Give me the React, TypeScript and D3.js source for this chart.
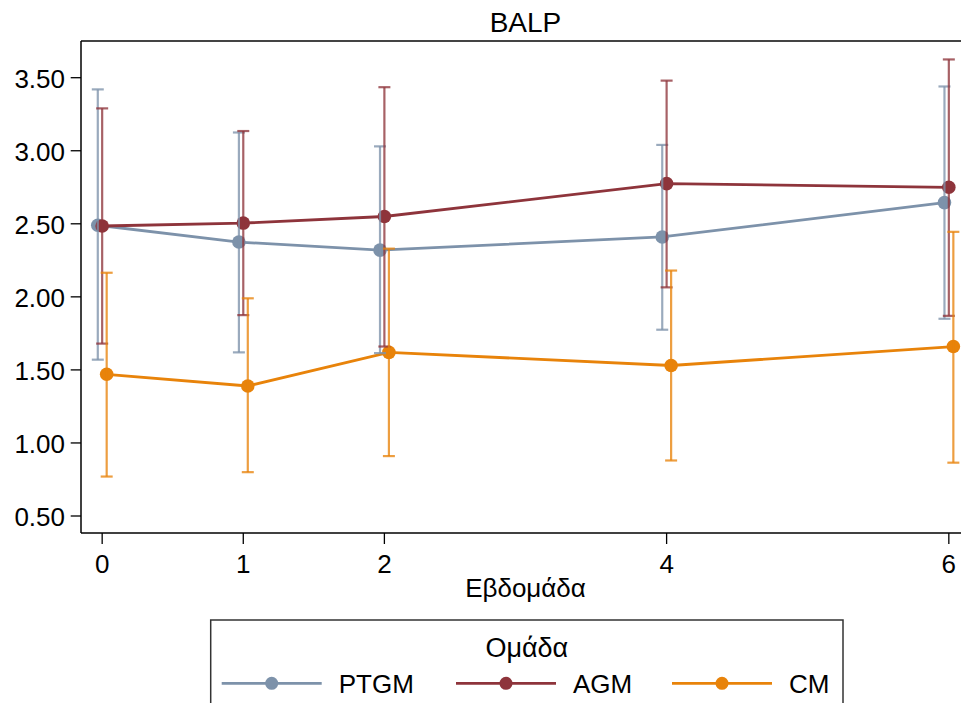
import React from "react";
import * as d3 from "d3";

const weeks = [0, 1, 2, 4, 6];
const groups = ["PTGM", "AGM", "CM"];
const ptgmMean = [2.49, 2.375, 2.32, 2.41, 2.645];
const ptgmLow = [1.57, 1.62, 1.615, 1.775, 1.85];
const ptgmHigh = [3.42, 3.125, 3.03, 3.04, 3.44];
const agmMean = [2.485, 2.505, 2.55, 2.775, 2.75];
const agmLow = [1.68, 1.875, 1.66, 2.065, 1.87];
const agmHigh = [3.29, 3.135, 3.435, 3.48, 3.625];
const cmMean = [1.47, 1.39, 1.62, 1.53, 1.66];
const cmLow = [0.77, 0.8, 0.91, 0.88, 0.865];
const cmHigh = [2.165, 1.99, 2.33, 2.18, 2.445];
const yTicks = [0.5, 1.0, 1.5, 2.0, 2.5, 3.0, 3.5];
const xTicks = [0, 1, 2, 4, 6];

const colors = ["#7d92aa", "#8e343b", "#e8830a"];
const dodge = [-0.031, 0, 0.032];
const FONT = "'Liberation Sans', Arial, Helvetica, sans-serif";

const W = 961;
const H = 703;
const left = 81;
const right = 970;
const top = 41;
const bottom = 533;

export default function App() {
  const x = d3.scaleLinear().domain([-0.15, 6.15]).range([left, right]);
  const y = d3.scaleLinear().domain([0.5, 3.5]).range([516, 77.7]);

  const series = [
    { name: groups[0], mean: ptgmMean, low: ptgmLow, high: ptgmHigh },
    { name: groups[1], mean: agmMean, low: agmLow, high: agmHigh },
    { name: groups[2], mean: cmMean, low: cmLow, high: cmHigh },
  ];

  const line = d3
    .line<[number, number]>()
    .x((d) => d[0])
    .y((d) => d[1]);

  const legendX = [221.7, 456, 672];
  const legendY = 683.3;

  return (
    <svg
      width={W}
      height={H}
      style={{ position: "absolute", left: 0, top: 0, background: "#fff" }}
      fontFamily={FONT}
    >
      <rect x={0} y={0} width={W} height={H} fill="#fff" />
      {/* title */}
      <text x={(left + right) / 2} y={32} textAnchor="middle" fontSize={28} fill="#000">
        BALP
      </text>
      {/* frame */}
      <line x1={left} x2={right + 5} y1={top} y2={top} stroke="#444" strokeWidth={2} />
      <line x1={left} x2={left} y1={top} y2={bottom} stroke="#000" strokeWidth={1.5} />
      <line x1={left} x2={right + 5} y1={bottom} y2={bottom} stroke="#000" strokeWidth={1.5} />
      {/* y axis */}
      {yTicks.map((t) => (
        <g key={"y" + t}>
          <line x1={70.7} x2={left} y1={y(t)} y2={y(t)} stroke="#000" strokeWidth={1.3} />
          <text x={65} y={y(t) + 9.8} textAnchor="end" fontSize={26} fill="#000">
            {d3.format(".2f")(t)}
          </text>
        </g>
      ))}
      {/* x axis */}
      {xTicks.map((t) => (
        <g key={"x" + t}>
          <line x1={x(t)} x2={x(t)} y1={bottom} y2={bottom + 11} stroke="#000" strokeWidth={1.3} />
          <text x={x(t)} y={573.3} textAnchor="middle" fontSize={26} fill="#000">
            {t}
          </text>
        </g>
      ))}
      <text x={(left + right) / 2} y={597.3} textAnchor="middle" fontSize={26} fill="#000">
        Εβδομάδα
      </text>
      {/* lines and markers */}
      {series.map((s, i) => {
        const pts: [number, number][] = weeks.map((w, j) => [x(w + dodge[i]), y(s.mean[j])]);
        return (
          <g key={"s" + s.name}>
            <path d={line(pts) || ""} fill="none" stroke={colors[i]} strokeWidth={2.8} />
            {pts.map((p, j) => (
              <circle key={j} cx={p[0]} cy={p[1]} r={6.8} fill={colors[i]} />
            ))}
          </g>
        );
      })}
      {/* error bars */}
      {series.map((s, i) => (
        <g key={"e" + s.name} stroke={colors[i]} strokeOpacity={0.78} strokeWidth={2.2}>
          {weeks.map((w, j) => {
            const cx = x(w + dodge[i]);
            const y1 = y(s.low[j]);
            const y2 = y(s.high[j]);
            return (
              <g key={j}>
                <line x1={cx} x2={cx} y1={y1} y2={y2} />
                <line x1={cx - 6} x2={cx + 6} y1={y1} y2={y1} />
                <line x1={cx - 6} x2={cx + 6} y1={y2} y2={y2} />
              </g>
            );
          })}
        </g>
      ))}
      {/* legend */}
      <rect x={210.7} y={620} width={632.3} height={120} fill="none" stroke="#333" strokeWidth={1.5} />
      <text x={526.8} y={656.7} textAnchor="middle" fontSize={27} fill="#000">
        Ομάδα
      </text>
      {groups.map((g, i) => (
        <g key={"l" + g}>
          <line
            x1={legendX[i]}
            x2={legendX[i] + 100}
            y1={legendY}
            y2={legendY}
            stroke={colors[i]}
            strokeWidth={2.8}
          />
          <circle cx={legendX[i] + 50} cy={legendY} r={6.5} fill={colors[i]} />
          <text x={legendX[i] + 117} y={693.3} fontSize={26} fill="#000">
            {g}
          </text>
        </g>
      ))}
    </svg>
  );
}
